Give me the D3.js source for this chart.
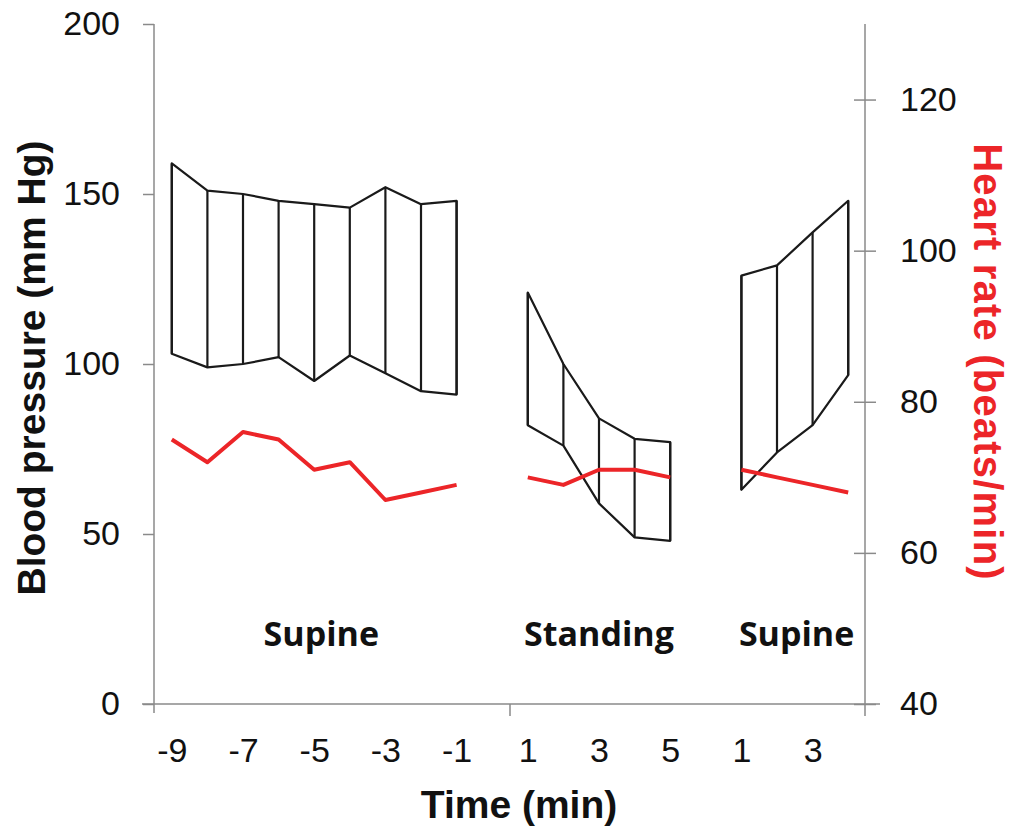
<!DOCTYPE html>
<html>
<head>
<meta charset="utf-8">
<script src="https://cdn.jsdelivr.net/npm/d3@7"></script>
<style>
  body { margin: 0; background: #fff; }
  svg text { font-family: "Liberation Sans", Arial, sans-serif; }
</style>
</head>
<body>
<svg id="chart" width="1014" height="827"></svg>
<script>
// time slots are placed by index: 0..8 supine, 10..14 standing, 16..19 supine again
var supineIdx = [0, 1, 2, 3, 4, 5, 6, 7, 8];
var supineSys = [159, 151, 150, 148, 147, 146, 152, 147, 148];
var supineDia = [103, 99, 100, 102, 95, 102.5, 97.3, 92, 91];
var supineHR  = [75, 72, 76, 75, 71, 72, 67, 68, 69];

var standIdx = [10, 11, 12, 13, 14];
var standSys = [121, 100, 84, 78, 77];
var standDia = [82, 76, 59, 49, 48];
var standHR  = [70, 69, 71, 71, 70];

var recIdx = [16, 17, 18, 19];
var recSys = [126, 129, 138.7, 148];
var recDia = [63, 74, 82, 96.7];
var recHR  = [71, 70, 69, 68];

var xTickIdx    = [0, 2, 4, 6, 8, 10, 12, 14, 16, 18];
var xTickLabels = ['-9', '-7', '-5', '-3', '-1', '1', '3', '5', '1', '3'];
var bpTicks = [0, 50, 100, 150, 200];
var hrTicks = [40, 60, 80, 100, 120];
var phases = [
    {label: 'Supine', at: 4.2},
    {label: 'Standing', at: 12},
    {label: 'Supine', at: 17.55}
];

var svg = d3.select('#chart');
var axisColor = '#8a8a8a';
var tickFont = 34;

var x = d3.scaleLinear().domain([-0.5, 19.5]).range([154, 866]);
var yBP = d3.scaleLinear().domain([0, 200]).range([704, 24]);
var yHR = d3.scaleLinear().domain([40, 130]).range([704, 24]);

// left axis
var left = svg.append('g')
    .attr('transform', 'translate(154,0)')
    .call(d3.axisLeft(yBP).tickValues(bpTicks).tickSize(11).tickSizeOuter(0).tickPadding(23));
left.select('.domain').remove();
left.selectAll('line').attr('stroke', axisColor).attr('stroke-width', 1.5);
left.selectAll('text').attr('font-size', tickFont).attr('fill', '#111');
left.append('line').attr('y1', 24).attr('y2', 713)
    .attr('stroke', axisColor).attr('stroke-width', 1.5);

// right axis
var right = svg.append('g')
    .attr('transform', 'translate(865,0)')
    .call(d3.axisRight(yHR).tickValues(hrTicks).tickSize(11).tickSizeOuter(0).tickPadding(24));
right.select('.domain').remove();
right.selectAll('.tick line').attr('x1', -11).attr('stroke', axisColor).attr('stroke-width', 1.5);
right.selectAll('text').attr('font-size', tickFont).attr('fill', '#111');
right.append('line').attr('y1', 24).attr('y2', 716)
    .attr('stroke', axisColor).attr('stroke-width', 1.5);

// bottom axis
var bottom = svg.append('g')
    .attr('transform', 'translate(0,704)')
    .call(d3.axisBottom(x).tickValues(xTickIdx)
        .tickFormat(function(d, i) { return xTickLabels[i]; })
        .tickSize(0).tickSizeOuter(0).tickPadding(34));
bottom.select('.domain').remove();
bottom.selectAll('text').attr('font-size', tickFont).attr('fill', '#111');
bottom.append('line').attr('x1', 142).attr('x2', 880)
    .attr('stroke', axisColor).attr('stroke-width', 1.5);
bottom.append('line').attr('x1', x(9.5)).attr('x2', x(9.5)).attr('y1', 0).attr('y2', 12)
    .attr('stroke', axisColor).attr('stroke-width', 1.5);

// blood pressure bands
function drawBand(idx, sys, dia) {
    var g = svg.append('g');
    var pts = idx.map(function(d, i) { return [x(d), yBP(sys[i])]; })
        .concat(idx.map(function(d, i) { return [x(d), yBP(dia[i])]; }).reverse());
    g.append('path')
        .attr('d', d3.line()(pts) + 'Z')
        .attr('fill', 'none')
        .attr('stroke', '#1a1a1a')
        .attr('stroke-width', 2.2)
        .attr('stroke-linejoin', 'round');
    g.selectAll('line.v')
        .data(idx)
        .enter()
        .append('line')
        .attr('class', 'v')
        .attr('x1', function(d) { return x(d); })
        .attr('x2', function(d) { return x(d); })
        .attr('y1', function(d, i) { return yBP(sys[i]); })
        .attr('y2', function(d, i) { return yBP(dia[i]); })
        .attr('stroke', '#1a1a1a')
        .attr('stroke-width', 2.2);
}
drawBand(supineIdx, supineSys, supineDia);
drawBand(standIdx, standSys, standDia);
drawBand(recIdx, recSys, recDia);

// heart rate lines
var hrLine = d3.line()
    .x(function(d) { return x(d[0]); })
    .y(function(d) { return yHR(d[1]); });
[[supineIdx, supineHR], [standIdx, standHR], [recIdx, recHR]].forEach(function(s) {
    svg.append('path')
        .attr('d', hrLine(d3.zip(s[0], s[1])))
        .attr('fill', 'none')
        .attr('stroke', '#ec2528')
        .attr('stroke-width', 4)
        .attr('stroke-linejoin', 'round');
});

// phase labels
svg.selectAll('text.phase')
    .data(phases)
    .enter()
    .append('text')
    .attr('class', 'phase')
    .attr('x', function(d) { return x(d.at); })
    .attr('y', 646)
    .attr('text-anchor', 'middle')
    .style('font-family', '"Open Sans", "Noto Sans", sans-serif')
    .attr('font-weight', 'bold')
    .attr('font-size', 34)
    .attr('fill', '#111')
    .text(function(d) { return d.label; });

// axis titles
svg.append('text')
    .attr('transform', 'translate(45,368) rotate(-90)')
    .attr('text-anchor', 'middle')
    .attr('font-weight', 'bold')
    .attr('font-size', 39)
    .attr('fill', '#111')
    .text('Blood pressure (mm Hg)');

svg.append('text')
    .attr('transform', 'translate(974,362) rotate(90)')
    .attr('text-anchor', 'middle')
    .attr('font-weight', 'bold')
    .attr('font-size', 40)
    .attr('letter-spacing', 1.2)
    .attr('fill', '#ec2528')
    .text('Heart rate (beats/min)');

svg.append('text')
    .attr('x', 519)
    .attr('y', 818)
    .attr('text-anchor', 'middle')
    .attr('font-weight', 'bold')
    .attr('font-size', 39)
    .attr('fill', '#111')
    .text('Time (min)');
</script>
</body>
</html>
